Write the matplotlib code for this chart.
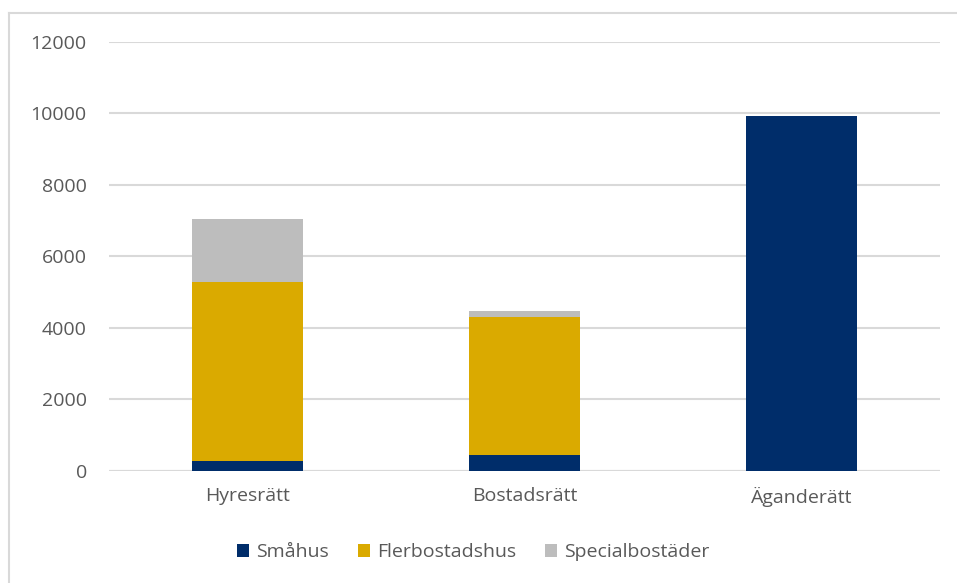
import matplotlib.pyplot as plt
import numpy as np
from matplotlib.lines import Line2D

# Data
categories = ["Hyresrätt", "Bostadsrätt", "Äganderätt"]
smahus = [260, 450, 9930]
flerbostadshus = [5010, 3850, 0]
specialbostader = [1760, 170, 0]

series_names = ["Småhus", "Flerbostadshus", "Specialbostäder"]
colors = ["#002D6A", "#DAAA00", "#BDBDBD"]
TEXT = "#595959"

plt.rcParams["font.family"] = ["Open Sans", "DejaVu Sans"]

fig = plt.figure(figsize=(9.57, 5.83), dpi=100)
ax = fig.add_axes([109 / 957, 1 - 470.7 / 583, 831 / 957, 429 / 583])

x = np.arange(len(categories))
bottom = np.zeros(len(categories))
for vals, name, col in zip([smahus, flerbostadshus, specialbostader], series_names, colors):
    ax.bar(x, vals, width=0.4, bottom=bottom, color=col, label=name, zorder=3)
    bottom += np.array(vals)

ax.set_xlim(-0.5, len(categories) - 0.5)
ax.set_ylim(0, 12000)
ax.set_yticks(range(0, 12001, 2000))
ax.set_xticks(x)
ax.set_xticklabels(categories)
ax.yaxis.grid(True, color="#D9D9D9", linewidth=1.5, zorder=0)
ax.tick_params(axis="both", length=0, labelsize=14, labelcolor=TEXT)
ax.tick_params(axis="y", pad=16)
ax.tick_params(axis="x", pad=12)
for s in ax.spines.values():
    s.set_visible(False)
ax.axhline(0, color="#D9D9D9", linewidth=1.5, zorder=1)

ax.legend(loc="center", bbox_to_anchor=(0.4386, -0.19), ncol=3, frameon=False,
          fontsize=14, labelcolor=TEXT, handlelength=0.62, handleheight=0.62,
          handletextpad=0.36, columnspacing=1.5, borderpad=0)

# outer chart border (top and left only visible)
fig.add_artist(Line2D([9 / 957, 9 / 957], [0, 1 - 12.5 / 583], color="#D9D9D9", linewidth=1.5))
fig.add_artist(Line2D([9 / 957, 1], [1 - 12.5 / 583, 1 - 12.5 / 583], color="#D9D9D9", linewidth=1.5))

fig.savefig("out.png", dpi=100)
